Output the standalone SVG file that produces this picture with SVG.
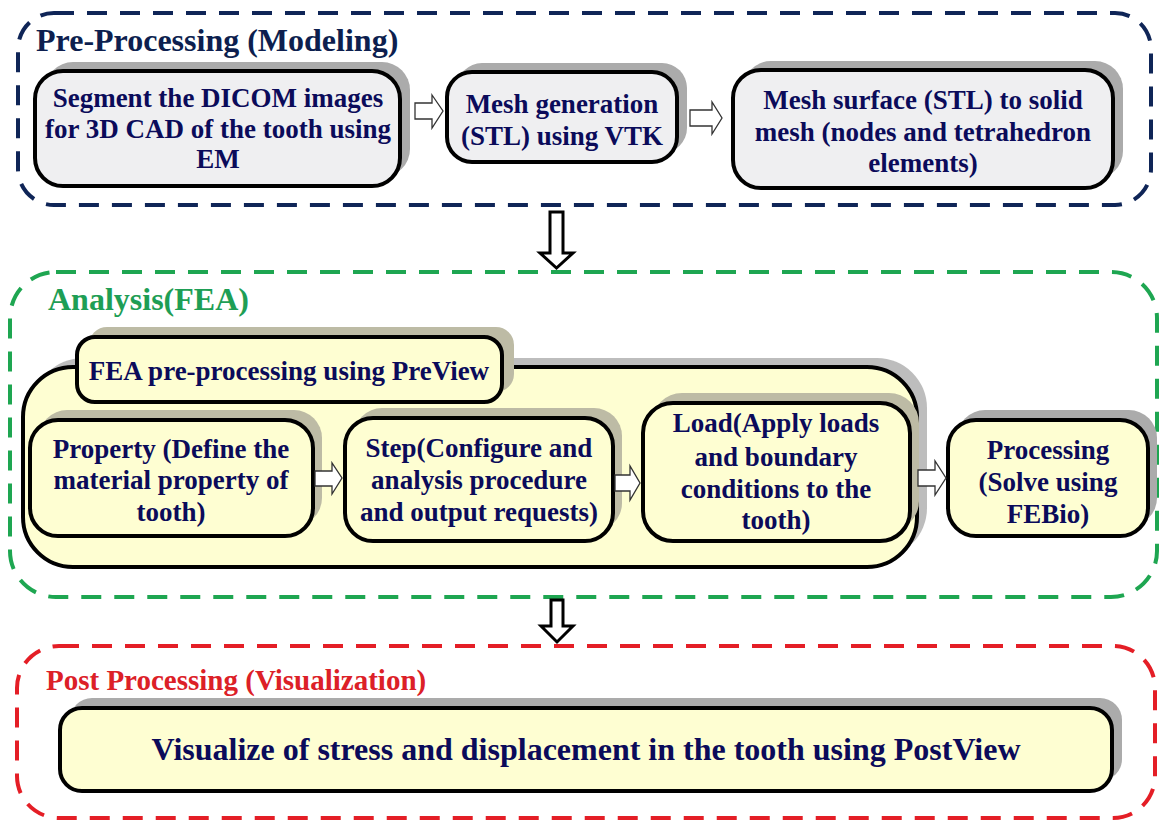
<svg xmlns="http://www.w3.org/2000/svg" width="1161" height="822" viewBox="0 0 1161 822">
<style>
.t{font-family:"Liberation Serif","Times New Roman",serif;font-weight:bold;fill:#0b0b5a;text-anchor:middle;font-size:27px}
.ttl{font-family:"Liberation Serif","Times New Roman",serif;font-weight:bold;font-size:32px}
.grey{fill:#efeff1;stroke:#000;stroke-width:4}
.yel{fill:#fefed2;stroke:#000;stroke-width:4}
.sh{fill:#ababab}
.shy{fill:#bdbba5}
.cont{fill:none;stroke-width:4;stroke-dasharray:20 13}
.arr{fill:#fff;stroke:#333;stroke-width:1.3}
.darr{fill:#fff;stroke:#000;stroke-width:3}
</style>
<rect width="1161" height="822" fill="#fff"/>

<g id="pre-processing">
<rect class="cont" x="18" y="13" width="1133" height="192" rx="36" stroke="#0f2557"/>
<text class="ttl" x="36" y="51" fill="#0d1f4f">Pre-Processing (Modeling)</text>
</g>
<g id="segment">
<rect class="sh" x="45" y="62" width="365" height="115" rx="28"/>
<rect class="grey" x="35" y="71" width="365" height="115" rx="28"/>
<text class="t" x="218" y="107">Segment the DICOM images</text>
<text class="t" x="218" y="138">for 3D CAD of the tooth using</text>
<text class="t" x="218" y="168">EM</text>
</g>
<g id="mesh-generation">
<rect class="sh" x="457" y="63" width="230" height="90" rx="25"/>
<rect class="grey" x="447" y="72" width="230" height="90" rx="25"/>
<text class="t" x="562" y="113">Mesh generation</text>
<text class="t" x="562" y="145">(STL) using VTK</text>
</g>
<g id="solid-mesh">
<rect class="sh" x="743" y="61" width="380" height="118" rx="28"/>
<rect class="grey" x="733" y="70" width="380" height="118" rx="28"/>
<text class="t" x="923" y="109">Mesh surface (STL) to solid</text>
<text class="t" x="923" y="141">mesh (nodes and tetrahedron</text>
<text class="t" x="923" y="172">elements)</text>
</g>

<g id="analysis">
<rect class="cont" x="10" y="272" width="1147" height="325" rx="46" stroke="#1ea651"/>
<text class="ttl" x="48" y="310" fill="#1e9e55">Analysis(FEA)</text>
</g>
<g id="fea-preview">
<rect fill="#bdbdbd" x="33" y="358" width="894" height="200" rx="50"/>
<rect class="yel" x="23" y="367" width="894" height="200" rx="50"/>
<rect class="shy" x="89" y="327" width="425" height="65" rx="18"/>
<rect class="yel" x="77" y="337" width="425" height="65" rx="18"/>
<text class="t" x="289" y="380">FEA pre-processing using PreView</text>
</g>
<g id="property">
<rect class="shy" x="39" y="410" width="283" height="116" rx="28"/>
<rect class="yel" x="30" y="420" width="283" height="116" rx="28"/>
<text class="t" x="171" y="458">Property (Define the</text>
<text class="t" x="171" y="489">material property of</text>
<text class="t" x="171" y="521">tooth)</text>
</g>
<g id="step">
<rect class="shy" x="354" y="408" width="268" height="123" rx="28"/>
<rect class="yel" x="345" y="418" width="268" height="123" rx="28"/>
<text class="t" x="479" y="457">Step(Configure and</text>
<text class="t" x="479" y="489">analysis procedure</text>
<text class="t" x="479" y="521">and output requests)</text>
</g>
<g id="load">
<rect class="shy" x="652" y="393" width="267" height="138" rx="30"/>
<rect class="yel" x="643" y="403" width="267" height="138" rx="30"/>
<text class="t" x="776" y="432">Load(Apply loads</text>
<text class="t" x="776" y="466">and boundary</text>
<text class="t" x="776" y="498">conditions to the</text>
<text class="t" x="776" y="529">tooth)</text>
</g>
<g id="processing">
<rect class="sh" x="957" y="410" width="200" height="116" rx="28"/>
<rect class="yel" x="948" y="420" width="200" height="116" rx="28"/>
<text class="t" x="1048" y="459">Processing</text>
<text class="t" x="1048" y="491">(Solve using</text>
<text class="t" x="1048" y="523">FEBio)</text>
</g>

<g id="post-processing">
<rect class="cont" x="17" y="646" width="1138" height="172" rx="42" stroke="#e41e26"/>
<text class="ttl" x="46" y="690" fill="#dc2027" style="font-size:29px">Post Processing (Visualization)</text>
</g>
<g id="visualize">
<rect class="sh" x="70" y="698" width="1052" height="83" rx="22"/>
<rect class="yel" x="60" y="708" width="1052" height="83" rx="22"/>
<text class="t" x="586" y="760" style="font-size:32px">Visualize of stress and displacement in the tooth using PostView</text>
</g>

<g id="connectors">
<path class="arr" d="M415 103H432V95L443 111L432 128V119H415Z"/>
<path class="arr" d="M690 110H712V102L722 118L712 134V126H690Z"/>
<path class="arr" d="M315 471H332V463L342 478L332 494V486H315Z"/>
<path class="arr" d="M615 475H630V466L640 483L630 500V491H615Z"/>
<path class="arr" d="M918 470H935V461L946 478L935 495V486H918Z"/>
<path class="darr" d="M550 212H563V253H573L556.5 268L540 253H550Z"/>
<path class="darr" d="M551 600H563V626H573L557 642L541 626H551Z"/>
</g>
</svg>
